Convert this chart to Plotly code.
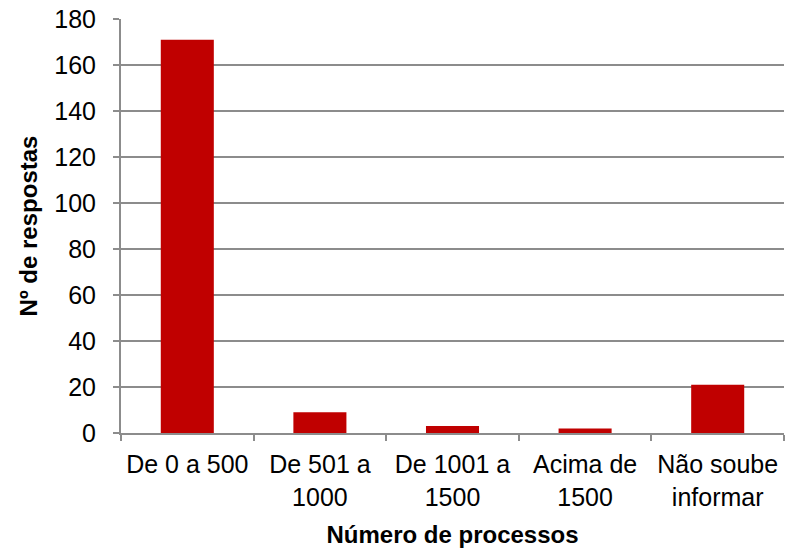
import plotly.graph_objects as go

categories = ["De 0 a 500", "De 501 a<br>1000", "De 1001 a<br>1500", "Acima de<br>1500", "Não soube<br>informar"]
respostas = [171, 9, 3, 2, 21]
y_ticks = [0, 20, 40, 60, 80, 100, 120, 140, 160, 180]

FONT = "Liberation Sans, Arial, sans-serif"
GRID = "#8C8C8C"

fig = go.Figure(go.Bar(
    x=categories, y=respostas,
    marker=dict(color="#C00000", line=dict(width=0)),
    width=0.4,
))

fig.update_layout(
    width=797, height=549,
    margin=dict(l=121, r=13, t=19, b=116),
    plot_bgcolor="white", paper_bgcolor="white",
    font=dict(family=FONT, size=25, color="black"),
    showlegend=False,
    xaxis=dict(
        showline=True, linecolor=GRID, linewidth=2,
        ticks="outside", tickson="boundaries", ticklen=6, tickcolor=GRID, tickwidth=2,
        tickfont=dict(size=25), ticklabelstandoff=8,
        title=dict(text="<b>Número de processos</b>", font=dict(size=24), standoff=17),
        automargin=False,
    ),
    yaxis=dict(
        range=[0, 180], tickvals=y_ticks,
        showline=True, linecolor=GRID, linewidth=2,
        showgrid=True, gridcolor=GRID, gridwidth=2,
        ticks="outside", ticklen=6, tickcolor=GRID, tickwidth=2,
        tickfont=dict(size=25), ticklabelstandoff=12,
        title=dict(text="<b>Nº de respostas</b>", font=dict(size=24), standoff=10),
        zeroline=False, automargin=False,
    ),
)

fig.write_html("out.html", config={"displayModeBar": False},
               post_script="document.body.style.margin='0';")
